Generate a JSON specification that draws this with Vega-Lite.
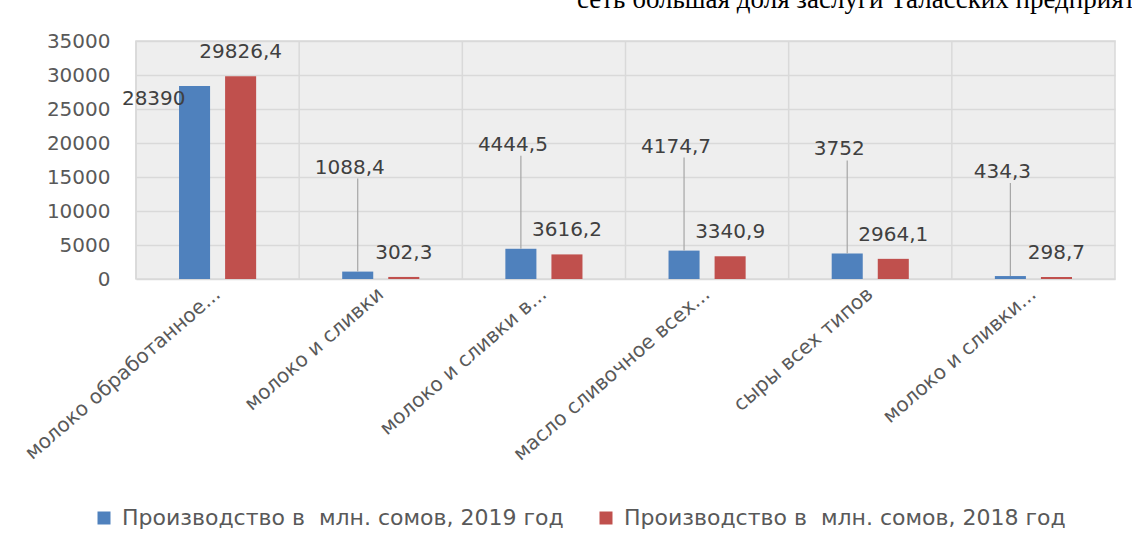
{
  "$schema": "https://vega.github.io/schema/vega-lite/v6.json",
  "width": 979,
  "height": 238,
  "autosize": {"type": "none"},
  "padding": {"left": 136, "top": 41, "right": 17, "bottom": 270},
  "background": "white",
  "config": {
    "locale": {"number": {"decimal": ",", "thousands": " ", "grouping": [3], "currency": ["", ""]}},
    "view": {"stroke": "#d9d9d9", "strokeWidth": 1.5, "fill": "#eeeeee"},
    "font": "DejaVu Sans",
    "axisY": {
      "title": null, "tickCount": 7, "format": "d", "grid": true, "gridColor": "#d9d9d9", "gridWidth": 1.5,
      "domain": false, "ticks": false, "labelFontSize": 20, "labelColor": "#595959",
      "labelPadding": 26, "labelOverlap": false, "labelBound": false, "labelFlush": false
    }
  },
  "title": {
    "text": "сеть большая доля заслуги Таласских предприятий",
    "font": "Liberation Serif",
    "fontSize": 27,
    "fontWeight": "normal",
    "color": "#000000",
    "anchor": "start",
    "frame": "group",
    "dx": 441,
    "dy": 9,
    "baseline": "alphabetic",
    "offset": 5
  },
  "data": {
    "values": [
      {"category": "молоко обработанное...", "series": "Производство в\u00a0 млн. сомов, 2019 год", "value": 28390},
      {"category": "молоко обработанное...", "series": "Производство в\u00a0 млн. сомов, 2018 год", "value": 29826.4},
      {"category": "молоко и сливки", "series": "Производство в\u00a0 млн. сомов, 2019 год", "value": 1088.4},
      {"category": "молоко и сливки", "series": "Производство в\u00a0 млн. сомов, 2018 год", "value": 302.3},
      {"category": "молоко и сливки в...", "series": "Производство в\u00a0 млн. сомов, 2019 год", "value": 4444.5},
      {"category": "молоко и сливки в...", "series": "Производство в\u00a0 млн. сомов, 2018 год", "value": 3616.2},
      {"category": "масло сливочное всех...", "series": "Производство в\u00a0 млн. сомов, 2019 год", "value": 4174.7},
      {"category": "масло сливочное всех...", "series": "Производство в\u00a0 млн. сомов, 2018 год", "value": 3340.9},
      {"category": "сыры всех типов", "series": "Производство в\u00a0 млн. сомов, 2019 год", "value": 3752},
      {"category": "сыры всех типов", "series": "Производство в\u00a0 млн. сомов, 2018 год", "value": 2964.1},
      {"category": "молоко и сливки...", "series": "Производство в\u00a0 млн. сомов, 2019 год", "value": 434.3},
      {"category": "молоко и сливки...", "series": "Производство в\u00a0 млн. сомов, 2018 год", "value": 298.7}
    ]
  },
  "layer": [
    {
      "transform": [{"filter": "indexof(datum.series, '2019') >= 0"}],
      "mark": {"type": "rule", "color": "#d9d9d9", "strokeWidth": 1.5},
      "encoding": {
        "x": {
          "field": "category", "type": "nominal", "sort": null, "bandPosition": 0,
          "scale": {"paddingInner": 0, "paddingOuter": 0},
          "axis": {
            "title": null, "labelAngle": -41, "labelAlign": "right", "labelBaseline": "middle",
            "labelFontSize": 20, "labelColor": "#595959", "ticks": false, "domain": false,
            "grid": false, "labelPadding": 12, "labelLimit": 400, "labelDx": 7
          }
        }
      }
    },
    {
      "mark": {"type": "bar"},
      "encoding": {
        "x": {"field": "category", "type": "nominal", "sort": null},
        "xOffset": {
          "field": "series", "type": "nominal", "sort": null,
          "scale": {
            "domain": ["Производство в\u00a0 млн. сомов, 2019 год", "Производство в\u00a0 млн. сомов, 2018 год"],
            "paddingInner": 0.326, "paddingOuter": 0.934
          }
        },
        "y": {
          "field": "value", "type": "quantitative",
          "scale": {"domain": [0, 35000], "nice": false}
        },
        "color": {
          "field": "series", "type": "nominal",
          "scale": {
            "domain": ["Производство в\u00a0 млн. сомов, 2019 год", "Производство в\u00a0 млн. сомов, 2018 год"],
            "range": ["#4f81bd", "#c0504d"]
          },
          "legend": {
            "title": null, "orient": "none", "direction": "horizontal",
            "legendX": -43, "legendY": 466,
            "symbolType": "square", "symbolSize": 169, "symbolStrokeWidth": 0,
            "labelFont": "DejaVu Sans", "labelFontSize": 22, "labelColor": "#595959",
            "labelOffset": 7, "columnPadding": 31, "labelLimit": 600
          }
        }
      }
    },
    {
      "transform": [{"filter": "indexof(datum.series, '2019') >= 0 && datum.value < 20000"}],
      "mark": {"type": "rule", "color": "#a6a6a6", "strokeWidth": 1.2, "y2Offset": -93},
      "encoding": {
        "x": {"field": "category", "type": "nominal", "sort": null},
        "xOffset": {"field": "series", "type": "nominal", "sort": null},
        "y": {"field": "value", "type": "quantitative"},
        "y2": {"field": "value"}
      }
    },
    {
      "transform": [{"filter": "indexof(datum.series, '2018') >= 0"}],
      "mark": {"type": "text", "fontSize": 20, "color": "#404040", "baseline": "middle", "dy": -24},
      "encoding": {
        "x": {"field": "category", "type": "nominal", "sort": null},
        "xOffset": {"field": "series", "type": "nominal", "sort": null},
        "y": {"field": "value", "type": "quantitative"},
        "text": {"field": "value", "type": "quantitative", "format": ".1~f"}
      }
    },
    {
      "transform": [{"filter": "indexof(datum.series, '2019') >= 0 && datum.value < 20000"}],
      "mark": {"type": "text", "fontSize": 20, "color": "#404040", "baseline": "middle", "dy": -104, "dx": -8},
      "encoding": {
        "x": {"field": "category", "type": "nominal", "sort": null},
        "xOffset": {"field": "series", "type": "nominal", "sort": null},
        "y": {"field": "value", "type": "quantitative"},
        "text": {"field": "value", "type": "quantitative", "format": ".1~f"}
      }
    },
    {
      "transform": [{"filter": "indexof(datum.series, '2019') >= 0 && datum.value >= 20000"}],
      "mark": {"type": "text", "fontSize": 20, "color": "#404040", "baseline": "middle", "align": "right", "dy": 13, "dx": -9},
      "encoding": {
        "x": {"field": "category", "type": "nominal", "sort": null},
        "xOffset": {"field": "series", "type": "nominal", "sort": null},
        "y": {"field": "value", "type": "quantitative"},
        "text": {"field": "value", "type": "quantitative", "format": ".1~f"}
      }
    }
  ]
}
